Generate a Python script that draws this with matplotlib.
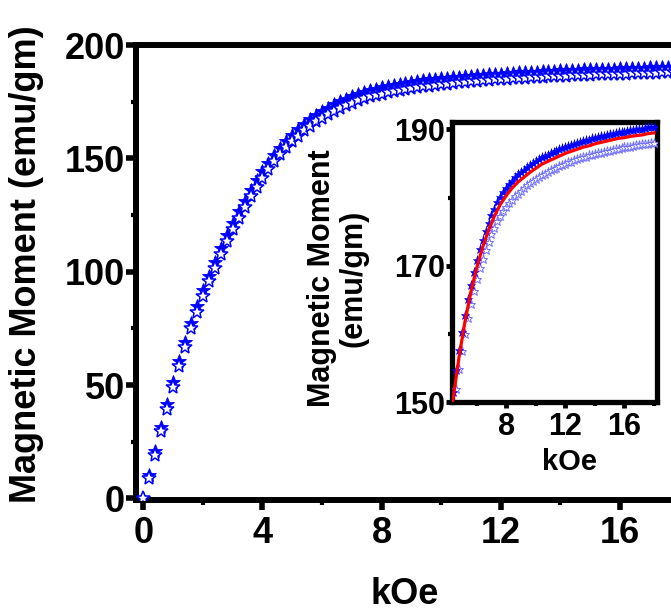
import matplotlib
matplotlib.use("Agg")
import matplotlib.pyplot as plt
from matplotlib.ticker import MultipleLocator

# Field values (kOe), shared by both branches
field = [0.0, 0.2, 0.4, 0.6, 0.8, 1.0, 1.2, 1.4, 1.6, 1.8,
         2.0, 2.2, 2.4, 2.6, 2.8, 3.0, 3.2, 3.4, 3.6, 3.8,
         4.0, 4.2, 4.4, 4.6, 4.8, 5.0, 5.2, 5.4, 5.6, 5.8,
         6.0, 6.2, 6.4, 6.6, 6.8, 7.0, 7.2, 7.4, 7.6, 7.8,
         8.0, 8.2, 8.4, 8.6, 8.8, 9.0, 9.2, 9.4, 9.6, 9.8,
         10.0, 10.2, 10.4, 10.6, 10.8, 11.0, 11.2, 11.4, 11.6, 11.8,
         12.0, 12.2, 12.4, 12.6, 12.8, 13.0, 13.2, 13.4, 13.6, 13.8,
         14.0, 14.2, 14.4, 14.6, 14.8, 15.0, 15.2, 15.4, 15.6, 15.8,
         16.0, 16.2, 16.4, 16.6, 16.8, 17.0, 17.2, 17.4, 17.6, 17.8, 18.0]

# Magnetisation, branch drawn with filled stars (emu/gm)
moment_filled = [0.0, 10.5, 21.0, 31.4, 41.5, 51.2, 60.5, 69.2, 77.3, 84.8,
                 91.8, 98.3, 104.5, 110.6, 116.2, 121.6, 126.6, 131.4, 136.0, 140.3,
                 144.3, 148.0, 151.5, 154.7, 157.6, 160.3, 162.8, 165.1, 167.2, 169.1,
                 170.8, 172.4, 173.8, 175.1, 176.3, 177.4, 178.4, 179.3, 180.1, 180.8,
                 181.4, 182.0, 182.5, 183.0, 183.4, 183.8, 184.1, 184.5, 184.8, 185.1,
                 185.4, 185.6, 185.9, 186.1, 186.3, 186.5, 186.7, 186.9, 187.1, 187.3,
                 187.4, 187.6, 187.7, 187.9, 188.0, 188.2, 188.3, 188.4, 188.5, 188.7,
                 188.8, 188.9, 189.0, 189.1, 189.2, 189.3, 189.4, 189.5, 189.6, 189.6,
                 189.7, 189.8, 189.9, 189.9, 190.0, 190.1, 190.1, 190.2, 190.3, 190.3, 190.4]

# Magnetisation, branch drawn with open stars (emu/gm)
moment_open = [0.0, 8.9, 19.3, 29.6, 39.6, 49.2, 58.4, 67.0, 75.0, 82.4,
               89.3, 95.7, 101.7, 107.8, 113.4, 118.8, 123.8, 128.6, 133.2, 137.5,
               141.5, 145.2, 148.7, 151.9, 154.8, 157.5, 160.0, 162.3, 164.4, 166.3,
               168.0, 169.6, 171.0, 172.3, 173.5, 174.6, 175.6, 176.5, 177.3, 178.0,
               178.6, 179.2, 179.7, 180.2, 180.6, 181.0, 181.4, 181.8, 182.1, 182.4,
               182.7, 183.0, 183.3, 183.5, 183.8, 184.0, 184.2, 184.4, 184.6, 184.8,
               185.0, 185.2, 185.3, 185.5, 185.6, 185.8, 185.9, 186.0, 186.2, 186.3,
               186.4, 186.5, 186.6, 186.7, 186.8, 186.9, 187.0, 187.1, 187.2, 187.3,
               187.4, 187.4, 187.5, 187.6, 187.7, 187.7, 187.8, 187.9, 187.9, 188.0, 188.0]

# Fitted curve shown in the inset
fit_field = [4.2, 4.4, 4.8, 5.2, 5.6, 6.0, 6.4, 6.8, 7.2, 7.6, 8.0,
             8.4, 8.8, 9.2, 9.6, 10.0, 10.4, 10.8, 11.2, 11.6, 12.0,
             12.4, 12.8, 13.2, 13.6, 14.0, 14.4, 14.8, 15.2, 15.6, 16.0,
             16.4, 16.8, 17.2, 17.6, 18.0]
fit_moment = [146.9, 150.4, 156.5, 161.7, 166.1, 169.7, 172.7, 175.2, 177.3, 179.0, 180.3,
              181.4, 182.3, 183.0, 183.7, 184.3, 184.9, 185.3, 185.7, 186.1, 186.5,
              186.8, 187.1, 187.4, 187.6, 187.9, 188.1, 188.3, 188.5, 188.7, 188.8,
              189.0, 189.1, 189.2, 189.4, 189.5]

main_xticks = [0, 4, 8, 12, 16]
main_yticks = [0, 50, 100, 150, 200]
inset_xticks = [8, 12, 16]
inset_yticks = [150, 170, 190]

plt.rcParams['font.family'] = ['Liberation Sans', 'DejaVu Sans']
plt.rcParams['font.weight'] = 'bold'

W, H = 671, 613
fig = plt.figure(figsize=(W / 100, H / 100), dpi=100)
fig.patch.set_facecolor('white')


def px_rect(left, top, right, bottom):
    return [left / W, 1 - bottom / H, (right - left) / W, (bottom - top) / H]


# ---- main axes (extends past the right edge of the canvas) ----
ax = fig.add_axes(px_rect(136, 45, 676, 500))
ax.plot(field, moment_filled, linestyle='none', marker='*', markersize=10.5,
        color='#0000ff', markeredgecolor='#0000ff', markeredgewidth=0.6,
        zorder=3)
ax.plot(field, moment_open, linestyle='none', marker='*', markersize=10.5,
        markerfacecolor='white', markeredgecolor='#0000ff', markeredgewidth=1.1,
        zorder=4)
ax.set_xlim(-0.245, 17.88)
ax.set_ylim(-0.7, 200)
ax.set_xticks(main_xticks)
ax.set_yticks(main_yticks)
ax.xaxis.set_minor_locator(MultipleLocator(2))
ax.yaxis.set_minor_locator(MultipleLocator(25))
for s in ['left', 'bottom', 'top']:
    ax.spines[s].set_linewidth(4.3)
ax.spines['right'].set_visible(False)
ax.tick_params(which='major', direction='out', length=7, width=4, labelsize=26,
               top=False, right=False)
ax.tick_params(axis='x', which='major', pad=4.5)
ax.tick_params(axis='y', which='major', pad=1)
ax.tick_params(which='minor', direction='out', length=3.5, width=3,
               top=False, right=False)

fig.text(27 / W, 1 - 264 / H, 'Magnetic Moment (emu/gm)', rotation=90,
         ha='center', va='center', fontsize=26, fontweight='bold')
fig.text(405 / W, 1 - 595 / H, 'kOe', ha='center', va='center',
         fontsize=26, fontweight='bold')

# ---- inset ----
ins = fig.add_axes(px_rect(452, 122, 657, 402))
ins.plot(field, moment_open, linestyle='none', marker='*', markersize=6.5,
         markerfacecolor='white', markeredgecolor='#7070ff', markeredgewidth=0.7,
         zorder=3)
ins.plot(field, moment_filled, linestyle='none', marker='*', markersize=6.5,
         color='#0000ff', markeredgecolor='#0000ff', markeredgewidth=0.4, zorder=4)
ins.plot(fit_field, fit_moment, color='#ff0000', linewidth=2.3, zorder=5)
ins.set_xlim(4.33, 18.2)
ins.set_ylim(150, 191.1)
ins.set_xticks(inset_xticks)
ins.set_yticks(inset_yticks)
ins.xaxis.set_minor_locator(MultipleLocator(2))
ins.yaxis.set_minor_locator(MultipleLocator(10))
for s in ins.spines.values():
    s.set_linewidth(3.8)
ins.tick_params(which='major', direction='out', length=4, width=3.5, labelsize=22,
                top=False, right=False)
ins.tick_params(axis='x', which='major', pad=3)
ins.tick_params(axis='y', which='major', pad=1)
ins.tick_params(which='minor', direction='out', length=3, width=3,
                top=False, right=False)

fig.text(338 / W, 1 - 278 / H, 'Magnetic Moment\n(emu/gm)', rotation=90,
         ha='center', va='center', multialignment='center', linespacing=1.05,
         fontsize=22, fontweight='bold')
fig.text(569 / W, 1 - 462 / H, 'kOe', ha='center', va='center',
         fontsize=21, fontweight='bold')

fig.savefig('out.png', dpi=100, facecolor='white')
